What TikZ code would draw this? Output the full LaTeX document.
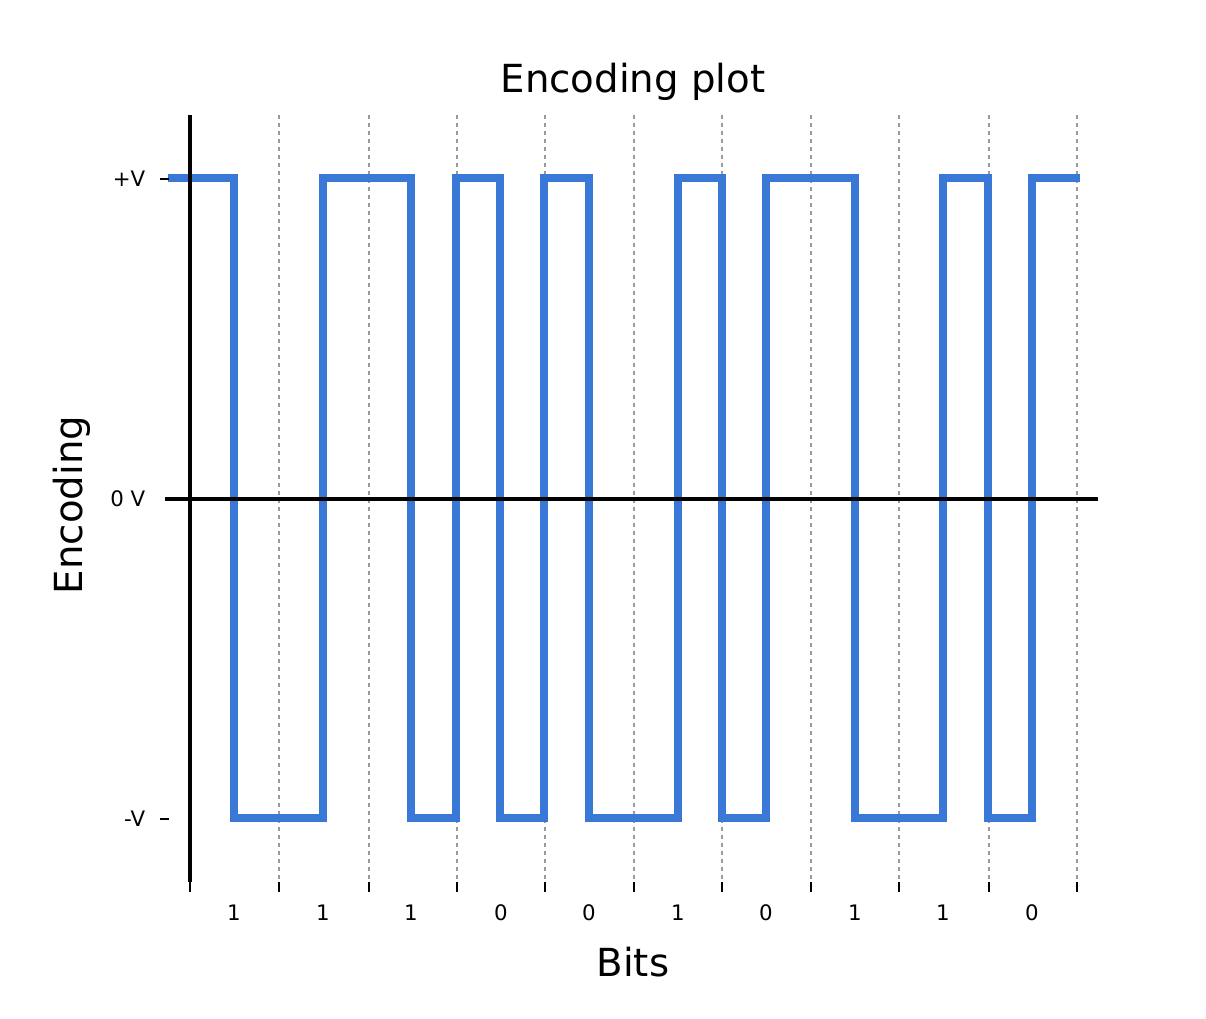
\documentclass[tikz,border=0pt]{standalone}
\usepackage{fontspec}
\setmainfont{DejaVu Sans}
\definecolor{wave}{RGB}{58,120,216}
\begin{document}
\begin{tikzpicture}[x=0.75pt,y=-0.75pt,
  axis/.style={line width=2.3pt,black},
  grid/.style={gray!80,dashed,line width=0.8pt},
  sig/.style={wave,line width=6pt,line join=miter},
  small/.style={font=\fontsize{16}{18}\selectfont},
  big/.style={font=\fontsize{29}{32}\selectfont}]
\useasboundingbox (0,0) rectangle (1206,1018);
% grid
\foreach \x in {279,369,457,545,634,722,811,899,989,1077}
  \draw[grid] (\x,115) -- (\x,882);
% ticks at bottom
\foreach \x in {190,279,369,457,545,634,722,811,899,989,1077}
  \draw[line width=1pt] (\x,882) -- (\x,892);
% labels
\foreach \x/\b in {234/1,323/1,411/1,501/0,589/0,678/1,766/0,855/1,943/1,1032/0}
  \node[small] (b\x) at (\x,913) {\b};
% waveform
\draw[sig] (168,178) -- (234,178) -- (234,818) -- (323,818) -- (323,178) -- (411,178) -- (411,818)
 -- (456,818) -- (456,178) -- (500,178) -- (500,818) -- (544,818) -- (544,178) -- (589,178)
 -- (589,818) -- (678,818) -- (678,178) -- (722,178) -- (722,818) -- (766,818) -- (766,178)
 -- (855,178) -- (855,818) -- (943,818) -- (943,178) -- (988,178) -- (988,818) -- (1032,818)
 -- (1032,178) -- (1080,178);
% axes
\coordinate (yb) at (190,882); \coordinate (yt) at (190,115);
\coordinate (xl) at (165,499); \coordinate (xr) at (1098,499);
\draw[axis] (yb) -- (yt);
\draw[axis] (xl) -- (xr);
% y tick labels
\node[small,anchor=east] (pv) at (150,179) {+V};
\node[small,anchor=east] (zv) at (150,499) {0 V};
\node[small,anchor=east] (mv) at (150,819) {-V};
\foreach \y in {179,819} \draw[line width=1pt] (160,\y) -- (169,\y);
% titles
\node[big] (title) at (633,82) {Encoding plot};
\node[big] (xlab) at (633,962) {Bits};
\node[big,rotate=90] (ylab) at (72,505) {Encoding};
\end{tikzpicture}
\end{document}
